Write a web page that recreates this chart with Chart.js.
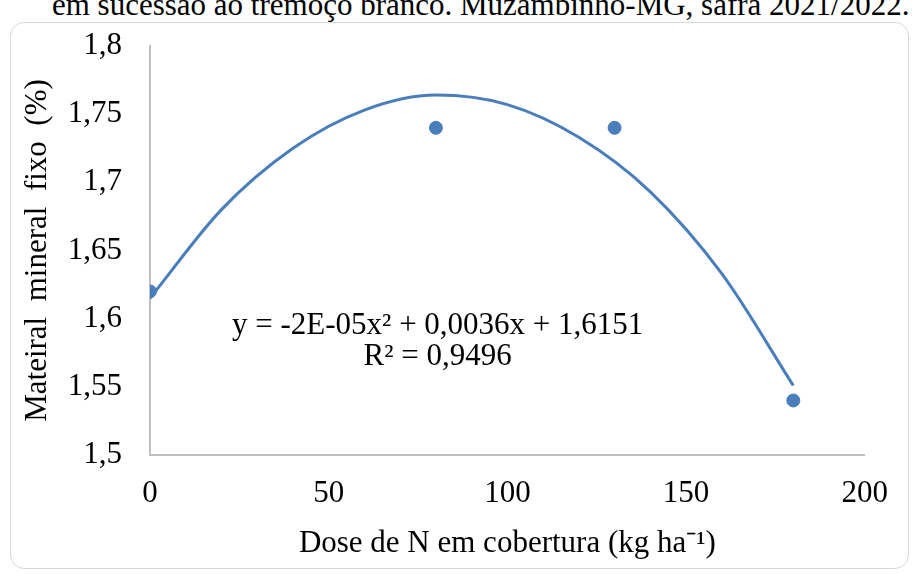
<!DOCTYPE html>
<html>
<head>
<meta charset="utf-8">
<script src="https://cdn.jsdelivr.net/npm/chart.js@4.4.1/dist/chart.umd.min.js"></script>
<style>
  body { margin: 0; background: #fff; width: 915px; height: 574px; overflow: hidden; position: relative; }
  .cap { position: absolute; left: 52px; top: -13px; font-family: 'Liberation Serif', serif; font-size: 31px; color: #000; white-space: nowrap; }
  .box { position: absolute; left: 10px; top: 22px; width: 897px; height: 545px; border: 1px solid #d9d9d9; border-radius: 14px; }
  canvas { display: block; }
</style>
</head>
<body>
<div class="cap">em sucessão ao tremoço branco. Muzambinho-MG, safra 2021/2022.</div>
<div class="box"><canvas id="graf" width="897" height="545"></canvas></div>
<script>
const graf = document.getElementById('graf');

// dados
const doses = [0, 80, 130, 180]
const mineral = [1.62, 1.74, 1.74, 1.54]

// linha de tendencia
const tendX = [0, 20, 40, 60, 80, 100, 120, 140, 160, 180]
const tendY = [1.615, 1.680, 1.725, 1.753, 1.764, 1.757, 1.733, 1.693, 1.633, 1.551]

const yTicks = [1.5, 1.55, 1.6, 1.65, 1.7, 1.75, 1.8]
const xTicks = [0, 50, 100, 150, 200]

const eq1 = 'y = -2E-05x² + 0,0036x + 1,6151'
const eq2 = 'R² = 0,9496'

const azul = '#4a7ebb'

Chart.defaults.font.family = "'Liberation Serif', serif"
Chart.defaults.color = '#000'

const equacao = {
  id: 'equacao',
  afterDatasetsDraw(chart) {
    const ctx = chart.ctx
    const x = chart.scales.x.getPixelForValue(80.5)
    const y1 = chart.scales.y.getPixelForValue(1.595)
    const y2 = chart.scales.y.getPixelForValue(1.572)
    ctx.save()
    ctx.font = "31px 'Liberation Serif'"
    ctx.fillStyle = '#000'
    ctx.textAlign = 'center'
    ctx.textBaseline = 'middle'
    ctx.fillText(eq1, x, y1)
    ctx.fillText(eq2, x, y2)
    ctx.restore()
  }
}

new Chart(graf, {
  type: 'scatter',
  data: {
    datasets: [{
      label: 'Mineral',
      data: doses.map((d, i) => ({x: d, y: mineral[i]})),
      backgroundColor: azul,
      borderColor: azul,
      pointRadius: 6.5,
      showLine: false,
      order: 1
    }, {
      label: 'Tendencia',
      data: tendX.map((d, i) => ({x: d, y: tendY[i]})),
      borderColor: azul,
      borderWidth: 3,
      pointRadius: 0,
      showLine: true,
      cubicInterpolationMode: 'monotone',
      order: 2
    }]
  },
  options: {
    responsive: false,
    animation: false,
    devicePixelRatio: 1,
    layout: { padding: { left: 0, right: 35, top: 23, bottom: 0 } },
    plugins: { legend: { display: false }, tooltip: { enabled: false } },
    scales: {
      x: {
        type: 'linear',
        min: 0, max: 200,
        afterBuildTicks: s => { s.ticks = xTicks.map(v => ({value: v})) },
        afterFit: s => { s.height = 113 },
        grid: { display: false, drawTicks: false },
        border: { display: true, color: '#bfbfbf', width: 2 },
        ticks: { padding: 20, font: { size: 31 } },
        title: {
          display: true,
          text: 'Dose de N em cobertura (kg ha⁻¹)',
          font: { size: 31 },
          padding: { top: 0, bottom: 6 }
        }
      },
      y: {
        min: 1.5, max: 1.8,
        afterBuildTicks: s => { s.ticks = yTicks.map(v => ({value: v})) },
        afterFit: s => { s.width = 139; s.paddingTop = 0; s.paddingBottom = 0 },
        grid: { display: false, drawTicks: false },
        border: { display: true, color: '#bfbfbf', width: 2 },
        ticks: {
          padding: 28,
          font: { size: 31 },
          callback: v => String(Math.round(v * 100) / 100).replace('.', ',')
        },
        title: {
          display: true,
          text: 'Mateiral  mineral  fixo  (%)',
          font: { size: 31 },
          padding: { top: 8, bottom: 0 }
        }
      }
    }
  },
  plugins: [equacao]
});
</script>
</body>
</html>
